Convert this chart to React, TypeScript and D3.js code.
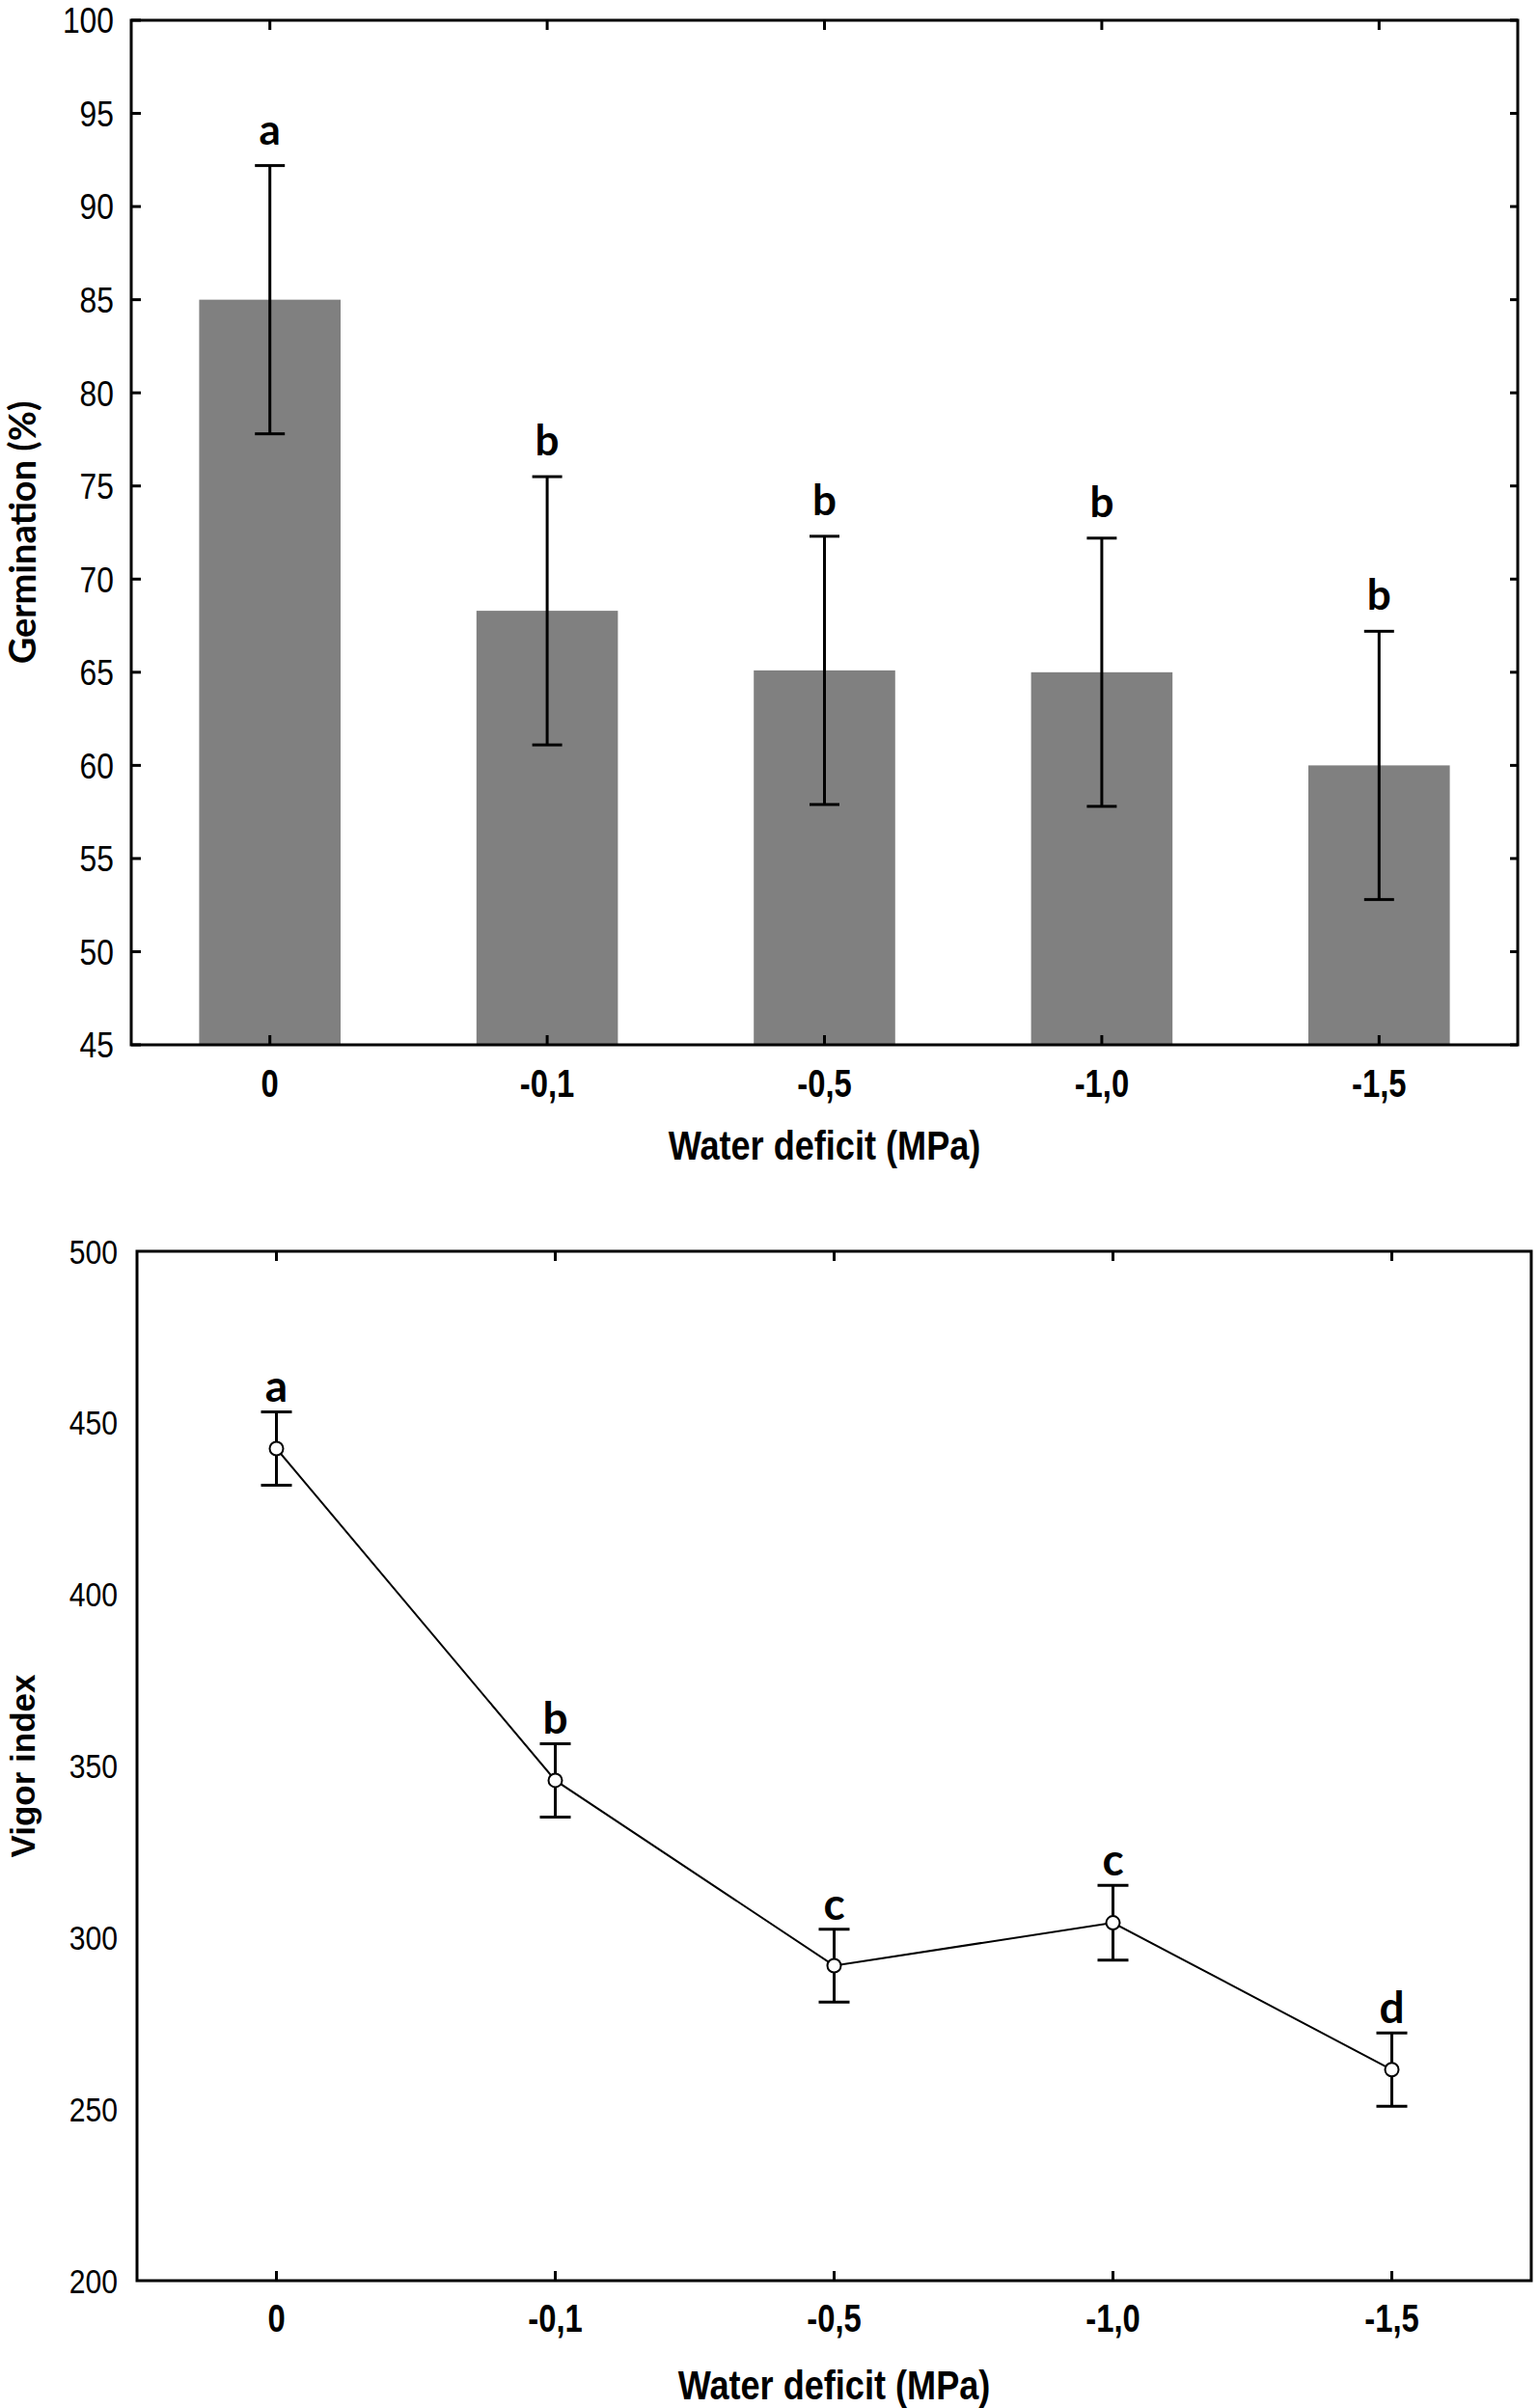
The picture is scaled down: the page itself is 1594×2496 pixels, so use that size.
import * as d3 from 'd3';

const W = 1594, H = 2496;

const CATS = ['0', '-0,1', '-0,5', '-1,0', '-1,5'];
const GERM = [85, 68.3, 65.1, 65, 60];
const GERM_ERR = [7.2, 7.2, 7.2, 7.2, 7.2];
const GERM_LETTERS = ['a', 'b', 'b', 'b', 'b'];
const GERM_TICKS = [45, 50, 55, 60, 65, 70, 75, 80, 85, 90, 95, 100];

const VIGOR = [442.5, 345.8, 291.8, 304.3, 261.5];
const VIGOR_ERR = [10.7, 10.7, 10.6, 10.9, 10.7];
const VIGOR_LETTERS = ['a', 'b', 'c', 'c', 'd'];
const VIGOR_TICKS = [200, 250, 300, 350, 400, 450, 500];

const ARIAL = "'Liberation Sans', Arial, sans-serif";
const CALIBRI = "Lato, 'Open Sans', sans-serif";

// top panel geometry
const T = { left: 136, right: 1573, top: 21, bottom: 1083 };
// bottom panel geometry
const B = { left: 142, right: 1587, top: 1297, bottom: 2364 };

// Arial Narrow look-alike: Liberation Sans squeezed horizontally
function NText({ x, y, size, bold, anchor, sx, dy, children }: {
  x: number; y: number; size: number; bold?: boolean; anchor: string; sx: number; dy?: string; children: any;
}) {
  return (
    <g transform={`translate(${x},${y}) scale(${sx},1)`}>
      <text dy={dy} textAnchor={anchor} fontFamily={ARIAL} fontWeight={bold ? 700 : 400} fontSize={size} fill="#000">{children}</text>
    </g>
  );
}

function GerminationPanel() {
  const x = d3.scaleBand().domain(CATS).range([T.left, T.right]).paddingInner(0.49).paddingOuter(0.245);
  const y = d3.scaleLinear().domain([45, 100]).range([T.bottom, T.top]);
  const cx = (c: string) => (x(c) ?? 0) + x.bandwidth() / 2;
  return (
    <g>
      {CATS.map((c, i) => (
        <rect key={c} x={x(c)} y={y(GERM[i])} width={x.bandwidth()} height={y(45) - y(GERM[i])} fill="#808080" />
      ))}
      {CATS.map((c, i) => {
        const hi = y(GERM[i] + GERM_ERR[i]), lo = y(GERM[i] - GERM_ERR[i]);
        return (
          <g key={c} stroke="#000" strokeWidth={3}>
            <line x1={cx(c)} x2={cx(c)} y1={hi} y2={lo} />
            <line x1={cx(c) - 15.5} x2={cx(c) + 15.5} y1={hi} y2={hi} />
            <line x1={cx(c) - 15.5} x2={cx(c) + 15.5} y1={lo} y2={lo} />
          </g>
        );
      })}
      {CATS.map((c, i) => (
        <text key={c} x={cx(c)} y={y(GERM[i] + GERM_ERR[i]) - 22} textAnchor="middle"
          fontFamily={CALIBRI} fontWeight={700} fontSize={44} fill="#000">{GERM_LETTERS[i]}</text>
      ))}
      <rect x={T.left} y={T.top} width={T.right - T.left} height={T.bottom - T.top} fill="none" stroke="#000" strokeWidth={3} />
      {GERM_TICKS.map(t => (
        <g key={t} stroke="#000" strokeWidth={3}>
          <line x1={T.left} x2={T.left + 10} y1={y(t)} y2={y(t)} />
          <line x1={T.right} x2={T.right - 8} y1={y(t)} y2={y(t)} />
        </g>
      ))}
      {CATS.map(c => (
        <g key={c} stroke="#000" strokeWidth={3}>
          <line x1={cx(c)} x2={cx(c)} y1={T.top} y2={T.top + 10} />
          <line x1={cx(c)} x2={cx(c)} y1={T.bottom} y2={T.bottom - 10} />
        </g>
      ))}
      {GERM_TICKS.map(t => (
        <NText key={t} x={T.left - 18} y={y(t)} dy="0.36em" anchor="end" size={37} sx={0.86}>{t}</NText>
      ))}
      {CATS.map(c => (
        <NText key={c} x={cx(c)} y={T.bottom + 54} anchor="middle" size={40} sx={0.82} bold>{c}</NText>
      ))}
      <NText x={(T.left + T.right) / 2} y={1202} anchor="middle" size={42} sx={0.86} bold>Water deficit (MPa)</NText>
      <text transform={`translate(37,${(T.top + T.bottom) / 2}) rotate(-90)`} textAnchor="middle" fontFamily={CALIBRI} fontWeight={700} fontSize={38} fill="#000">Germination (%)</text>
    </g>
  );
}

function VigorPanel() {
  const x = d3.scalePoint().domain(CATS).range([B.left, B.right]).padding(0.5);
  const y = d3.scaleLinear().domain([200, 500]).range([B.bottom, B.top]);
  const px = (c: string) => x(c) ?? 0;
  const line = d3.line<number>().x((_, i) => px(CATS[i])).y(v => y(v));
  return (
    <g>
      <rect x={B.left} y={B.top} width={B.right - B.left} height={B.bottom - B.top} fill="none" stroke="#000" strokeWidth={3} />
      {CATS.map(c => (
        <g key={c} stroke="#000" strokeWidth={3}>
          <line x1={px(c)} x2={px(c)} y1={B.top} y2={B.top + 10} />
          <line x1={px(c)} x2={px(c)} y1={B.bottom} y2={B.bottom - 10} />
        </g>
      ))}
      <path d={line(VIGOR) ?? ''} fill="none" stroke="#000" strokeWidth={2} />
      {CATS.map((c, i) => {
        const hi = y(VIGOR[i] + VIGOR_ERR[i]), lo = y(VIGOR[i] - VIGOR_ERR[i]);
        return (
          <g key={c} stroke="#000" strokeWidth={3}>
            <line x1={px(c)} x2={px(c)} y1={hi} y2={lo} />
            <line x1={px(c) - 16} x2={px(c) + 16} y1={hi} y2={hi} />
            <line x1={px(c) - 16} x2={px(c) + 16} y1={lo} y2={lo} />
          </g>
        );
      })}
      {CATS.map((c, i) => (
        <circle key={c} cx={px(c)} cy={y(VIGOR[i])} r={7} fill="#fff" stroke="#000" strokeWidth={2} />
      ))}
      {CATS.map((c, i) => (
        <text key={c} x={px(c)} y={y(VIGOR[i] + VIGOR_ERR[i]) - 10} textAnchor="middle"
          fontFamily={CALIBRI} fontWeight={700} fontSize={46} fill="#000">{VIGOR_LETTERS[i]}</text>
      ))}
      {VIGOR_TICKS.map(t => (
        <NText key={t} x={B.left - 20} y={y(t)} dy="0.36em" anchor="end" size={35} sx={0.86}>{t}</NText>
      ))}
      {CATS.map(c => (
        <NText key={c} x={px(c)} y={B.bottom + 53} anchor="middle" size={40} sx={0.82} bold>{c}</NText>
      ))}
      <NText x={(B.left + B.right) / 2} y={2487} anchor="middle" size={42} sx={0.86} bold>Water deficit (MPa)</NText>
      <text transform={`translate(36,${(B.top + B.bottom) / 2}) rotate(-90)`} textAnchor="middle" fontFamily={ARIAL} fontWeight={700} fontSize={35} fill="#000">Vigor index</text>
    </g>
  );
}

export default function App() {
  return (
    <svg width={W} height={H} viewBox={`0 0 ${W} ${H}`} style={{ position: 'absolute', left: 0, top: 0, background: '#fff' }}>
      <rect width={W} height={H} fill="#fff" />
      <GerminationPanel />
      <VigorPanel />
    </svg>
  );
}
